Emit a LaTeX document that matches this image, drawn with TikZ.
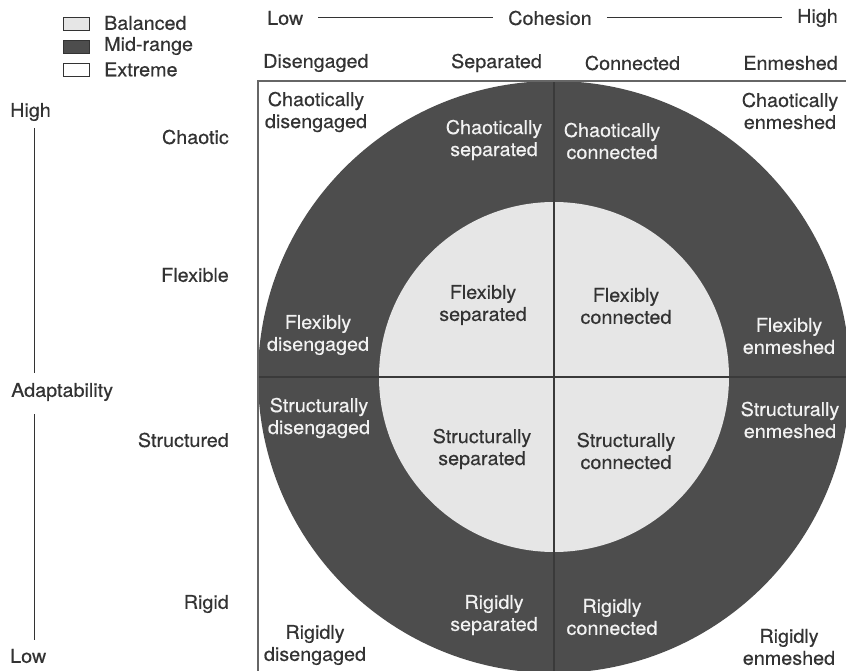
\documentclass[tikz,border=0pt]{standalone}
\usepackage{fontspec}
\setmainfont[FakeStretch=1.04, FakeBold=0.4]{TeX Gyre Heros}
\definecolor{midgray}{HTML}{4D4D4D}
\definecolor{balgray}{HTML}{E6E6E6}
\definecolor{txtdark}{HTML}{333333}
\definecolor{txtlight}{HTML}{F2F2F2}
\definecolor{linegray}{HTML}{3A3A3A}
\tikzset{
  lab/.style={font=\fontsize{19}{22}\selectfont, text=txtdark, inner sep=0pt, align=center},
  labw/.style={lab, text=txtlight},
  legbox/.style={draw=txtdark, line width=0.9pt, minimum width=26pt, minimum height=13pt, inner sep=0pt},
  axisline/.style={draw=txtdark, line width=1pt},
  divline/.style={draw=linegray, line width=1.3pt},
}
\begin{document}
\begin{tikzpicture}[x=1pt,y=-1pt]
\useasboundingbox (0,0) rectangle (846,671);
\fill[white] (0,0) rectangle (846,671);
\begin{scope}
\clip (0,0) rectangle (846,671);
% plot area
\fill[midgray] (554,377) circle (296);
\fill[balgray] (554,377) circle (175);
\draw[divline] (258,377) -- (846,377);
\draw[divline] (554,81) -- (554,671);
\draw[draw=gray!80!black, line width=1.4pt] (258,671) -- (258,81) -- (846,81);
\end{scope}

% legend
\node[legbox, fill=balgray] (lb1) at (76,23.5) {};
\node[legbox, fill=midgray] (lb2) at (76,46.5) {};
\node[legbox, fill=white] (lb3) at (76,70) {};
\node[lab, anchor=west] (lt1) at (104,23) {Balanced};
\node[lab, anchor=west] (lt2) at (104,46) {Mid-range};
\node[lab, anchor=west] (lt3) at (104,69.5) {Extreme};

% cohesion axis
\node[lab, anchor=west] (clow) at (267,18) {Low};
\node[lab] (coh) at (550,18) {Cohesion};
\node[lab, anchor=east] (chigh) at (838,18) {High};
\draw[axisline] ([xshift=15pt]clow.east) -- ([xshift=-15pt]coh.west);
\draw[axisline] ([xshift=15pt]coh.east) -- ([xshift=-15pt]chigh.west);

% column headers
\node[lab, anchor=west] (h1) at (263,63) {Disengaged};
\node[lab] (h2) at (496.5,63) {Separated};
\node[lab] (h3) at (632.5,63) {Connected};
\node[lab, anchor=east] (h4) at (838,63) {Enmeshed};

% adaptability axis
\node[lab, anchor=west] (ahigh) at (10,112) {High};
\node[lab, anchor=west] (adapt) at (11,392) {Adaptability};
\node[lab, anchor=west] (alow) at (10,656) {Low};
\coordinate (ax1) at (34,128);
\coordinate (ax2) at (34,373);
\coordinate (ax3) at (34,414);
\coordinate (ax4) at (34,640);
\draw[axisline] (ax1) -- (ax2);
\draw[axisline] (ax3) -- (ax4);

% row headers
\node[lab, anchor=east] (r1) at (229,137) {Chaotic};
\node[lab, anchor=east] (r2) at (229,275) {Flexible};
\node[lab, anchor=east] (r3) at (229,440) {Structured};
\node[lab, anchor=east] (r4) at (229,604) {Rigid};

% cells
\node[lab] (c11) at (316,112) {Chaotically\\disengaged};
\node[labw] (c12) at (494,140) {Chaotically\\separated};
\node[labw] (c13) at (612,141) {Chaotically\\connected};
\node[lab] (c14) at (790,111) {Chaotically\\enmeshed};

\node[labw] (c21) at (318,335) {Flexibly\\disengaged};
\node[lab] (c22) at (483,305) {Flexibly\\separated};
\node[lab] (c23) at (626,306) {Flexibly\\connected};
\node[labw] (c24) at (789,336) {Flexibly\\enmeshed};

\node[labw] (c31) at (319,418) {Structurally\\disengaged};
\node[lab] (c32) at (482,449) {Structurally\\separated};
\node[lab] (c33) at (626,451) {Structurally\\connected};
\node[labw] (c34) at (790,420) {Structurally\\enmeshed};

\node[labw] (c42) at (494,615) {Rigidly\\separated};
\node[labw] (c43) at (612,617) {Rigidly\\connected};
\node[lab] (c41) at (315,645) {Rigidly\\disengaged};
\node[lab] (c44) at (789,647) {Rigidly\\enmeshed};
\end{tikzpicture}
\end{document}
